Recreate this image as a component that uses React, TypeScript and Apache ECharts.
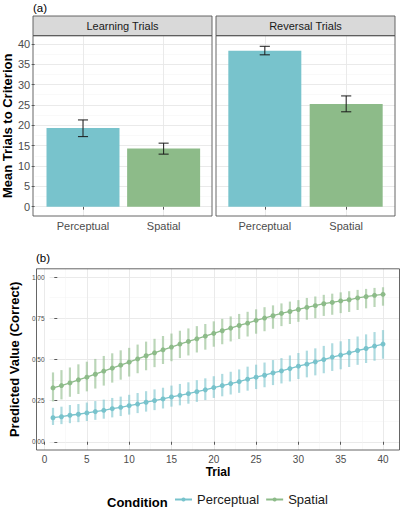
import React, { useEffect, useRef } from 'react';
import * as echarts from 'echarts';

// ---------- Panel (a) data ----------
const facets = ['Learning Trials', 'Reversal Trials'];
const conditions = ['Perceptual', 'Spatial'];
const learningMeans = [19.3, 14.3];
const learningLow = [17.2, 12.9];
const learningHigh = [21.3, 15.6];
const reversalMeans = [38.3, 25.2];
const reversalLow = [37.3, 23.3];
const reversalHigh = [39.4, 27.2];
const yTicksA = [0, 5, 10, 15, 20, 25, 30, 35, 40];

// ---------- Panel (b) data ----------
const trials = [1, 2, 3, 4, 5, 6, 7, 8, 9, 10, 11, 12, 13, 14, 15, 16, 17, 18, 19, 20,
  21, 22, 23, 24, 25, 26, 27, 28, 29, 30, 31, 32, 33, 34, 35, 36, 37, 38, 39, 40];
const perceptualFit = [0.146, 0.152, 0.161, 0.167, 0.175, 0.183, 0.191, 0.201, 0.209, 0.219,
  0.229, 0.240, 0.250, 0.260, 0.272, 0.282, 0.292, 0.304, 0.315, 0.329,
  0.341, 0.353, 0.365, 0.380, 0.392, 0.404, 0.418, 0.430, 0.444, 0.459,
  0.471, 0.485, 0.499, 0.514, 0.526, 0.540, 0.554, 0.566, 0.581, 0.593];
const perceptualLow = [0.102, 0.107, 0.113, 0.119, 0.126, 0.133, 0.140, 0.148, 0.156, 0.165,
  0.174, 0.183, 0.192, 0.202, 0.213, 0.221, 0.231, 0.242, 0.253, 0.266,
  0.276, 0.287, 0.297, 0.310, 0.320, 0.331, 0.344, 0.354, 0.366, 0.381,
  0.391, 0.403, 0.416, 0.430, 0.440, 0.454, 0.467, 0.478, 0.492, 0.504];
const perceptualHigh = [0.206, 0.213, 0.223, 0.229, 0.238, 0.247, 0.256, 0.266, 0.274, 0.285,
  0.296, 0.307, 0.318, 0.328, 0.341, 0.351, 0.361, 0.374, 0.385, 0.398,
  0.412, 0.425, 0.439, 0.456, 0.468, 0.481, 0.496, 0.508, 0.524, 0.539,
  0.553, 0.567, 0.582, 0.598, 0.610, 0.624, 0.639, 0.652, 0.666, 0.678];
const spatialFit = [0.327, 0.341, 0.357, 0.376, 0.392, 0.410, 0.429, 0.447, 0.465, 0.483,
  0.503, 0.522, 0.540, 0.558, 0.575, 0.593, 0.609, 0.625, 0.641, 0.658,
  0.674, 0.690, 0.706, 0.720, 0.737, 0.751, 0.765, 0.779, 0.791, 0.803,
  0.816, 0.826, 0.838, 0.846, 0.855, 0.862, 0.873, 0.881, 0.889, 0.895];
const spatialLow = [0.245, 0.257, 0.273, 0.290, 0.306, 0.323, 0.341, 0.359, 0.377, 0.396,
  0.416, 0.434, 0.453, 0.472, 0.489, 0.508, 0.524, 0.542, 0.559, 0.577,
  0.592, 0.609, 0.624, 0.639, 0.656, 0.671, 0.686, 0.702, 0.715, 0.728,
  0.741, 0.750, 0.764, 0.771, 0.781, 0.788, 0.800, 0.810, 0.818, 0.826];
const spatialHigh = [0.421, 0.435, 0.451, 0.470, 0.486, 0.503, 0.521, 0.537, 0.555, 0.570,
  0.590, 0.608, 0.625, 0.642, 0.657, 0.674, 0.688, 0.702, 0.715, 0.731,
  0.746, 0.761, 0.776, 0.789, 0.804, 0.817, 0.828, 0.840, 0.851, 0.860,
  0.873, 0.882, 0.892, 0.899, 0.907, 0.914, 0.922, 0.928, 0.934, 0.938];
const xTicksB = [0, 5, 10, 15, 20, 25, 30, 35, 40];

const PERC = '#78C3CC';
const SPAT = '#8DBB89';
const FONT = '"Liberation Sans", Arial, Helvetica, sans-serif';
const GRID_MAJOR = '#E8E8E8';
const GRID_MINOR = '#F3F3F3';
const BORDER = '#555555';

// layout (pixels)
const PA = { top: 35.7, height: 180.3, width: 179 };
const PA_LEFT = [33, 216];
const PB = { left: 36.5, width: 363, top: 268.8, height: 181.2 };
const PB_INNER = { top: 277.04, height: 164.72 };

export default function App() {
  const ref = useRef<HTMLDivElement>(null);

  useEffect(() => {
    if (!ref.current) return;
    const chart = echarts.init(ref.current, undefined, { renderer: 'svg' });

    const facetMeans = [learningMeans, reversalMeans];
    const facetLow = [learningLow, reversalLow];
    const facetHigh = [learningHigh, reversalHigh];
    const colors = [PERC, SPAT];

    const xAxes: any[] = [];
    const yAxes: any[] = [];
    const series: any[] = [];

    facets.forEach((f, i) => {
      xAxes.push({
        gridIndex: i, type: 'value', min: 0.4, max: 2.6, splitNumber: 2,
        axisLine: { show: false },
        axisTick: { show: true, length: 3, lineStyle: { color: '#333', width: 0.8 }, customValues: [1, 2] },
        axisLabel: {
          show: true, color: '#4D4D4D', fontSize: 11, margin: 4, fontFamily: FONT,
          customValues: [1, 2],
          formatter: (v: number) => (Math.abs(v - Math.round(v)) < 1e-6 && conditions[Math.round(v) - 1]) || '',
        },
        splitLine: { show: true, lineStyle: { color: GRID_MAJOR, width: 0.9 } },
      });
      yAxes.push({
        gridIndex: i, type: 'value', min: -2.3, max: 42.0, splitNumber: 9,
        axisLine: { show: false },
        axisTick: { show: i === 0, length: 3, lineStyle: { color: '#333', width: 0.8 }, customValues: yTicksA },
        axisLabel: {
          show: i === 0, color: '#4D4D4D', fontSize: 11, margin: 4.5, fontFamily: FONT,
          customValues: yTicksA,
          formatter: (v: number) => (yTicksA.indexOf(v) >= 0 ? String(v) : ''),
        },
        splitLine: { show: true, lineStyle: { color: GRID_MAJOR, width: 0.9 } },
        minorTick: { show: false, splitNumber: 2 },
        minorSplitLine: { show: true, lineStyle: { color: GRID_MINOR, width: 0.5 } },
        name: i === 0 ? 'Mean Trials to Criterion' : '',
        nameLocation: 'middle', nameRotate: 90, nameGap: 15.5,
        nameTextStyle: { fontSize: 13, fontWeight: 'bold', color: '#000', fontFamily: FONT },
      });
      series.push({
        type: 'bar', xAxisIndex: i, yAxisIndex: i, barWidth: 73, z: 2,
        data: conditions.map((c, k) => ({ value: [k + 1, facetMeans[i][k]], itemStyle: { color: colors[k] } })),
      });
      series.push({
        type: 'custom', xAxisIndex: i, yAxisIndex: i, z: 5,
        encode: { x: 0, y: [1, 2] },
        data: conditions.map((c, k) => [k + 1, facetLow[i][k], facetHigh[i][k]]),
        renderItem: (params: any, api: any) => {
          const x = api.value(0);
          const lo = api.coord([x, api.value(1)]);
          const hi = api.coord([x, api.value(2)]);
          const hw = api.size([0.0625, 0])[0];
          const st = { stroke: '#1A1A1A', lineWidth: 1 };
          return {
            type: 'group',
            children: [
              { type: 'line', shape: { x1: lo[0], y1: lo[1], x2: hi[0], y2: hi[1] }, style: st },
              { type: 'line', shape: { x1: lo[0] - hw, y1: lo[1], x2: lo[0] + hw, y2: lo[1] }, style: st },
              { type: 'line', shape: { x1: hi[0] - hw, y1: hi[1], x2: hi[0] + hw, y2: hi[1] }, style: st },
            ],
          };
        },
      });
    });

    // Panel (b): grid 2 (y 0..1: horizontal gridlines and labels), grid 3 (full panel: x axis + data)
    xAxes.push({
      gridIndex: 2, type: 'value', min: -0.95, max: 41.95,
      axisLine: { show: false }, axisTick: { show: false }, axisLabel: { show: false },
      splitLine: { show: false },
    });
    yAxes.push({
      gridIndex: 2, type: 'value', min: 0, max: 1, interval: 0.25,
      axisLine: { show: false },
      axisTick: { show: true, length: 3, lineStyle: { color: '#333', width: 0.8 } },
      axisLabel: { color: '#4D4D4D', fontSize: 6.5, margin: 5, fontFamily: FONT, formatter: (v: number) => v.toFixed(2) },
      splitLine: { show: true, lineStyle: { color: GRID_MAJOR, width: 0.9 } },
      minorTick: { show: false, splitNumber: 2 },
      minorSplitLine: { show: true, lineStyle: { color: GRID_MINOR, width: 0.5 } },
      name: 'Predicted Value (Correct)', nameLocation: 'middle', nameRotate: 90, nameGap: 19.5,
      nameTextStyle: { fontSize: 13, fontWeight: 'bold', color: '#000', fontFamily: FONT },
    });
    xAxes.push({
      gridIndex: 3, type: 'value', min: -0.95, max: 41.95, splitNumber: 9,
      axisLine: { show: false },
      axisTick: { show: true, length: 3, lineStyle: { color: '#333', width: 0.8 }, customValues: xTicksB },
      axisLabel: {
        color: '#4D4D4D', fontSize: 10, margin: 4.5, fontFamily: FONT,
        customValues: xTicksB,
        formatter: (v: number) => (xTicksB.indexOf(v) >= 0 ? String(v) : ''),
      },
      splitLine: { show: true, lineStyle: { color: GRID_MAJOR, width: 0.9 } },
      minorTick: { show: false, splitNumber: 2 },
      minorSplitLine: { show: true, lineStyle: { color: GRID_MINOR, width: 0.5 } },
      name: 'Trial', nameLocation: 'middle', nameGap: 16,
      nameTextStyle: { fontSize: 12, fontWeight: 'bold', color: '#000', fontFamily: FONT },
    });
    yAxes.push({
      gridIndex: 3, type: 'value', min: -0.05, max: 1.05,
      axisLine: { show: false }, axisTick: { show: false }, axisLabel: { show: false },
      splitLine: { show: false },
    });

    const lineSets = [
      { name: 'Perceptual', fit: perceptualFit, low: perceptualLow, high: perceptualHigh, color: PERC },
      { name: 'Spatial', fit: spatialFit, low: spatialLow, high: spatialHigh, color: SPAT },
    ];
    lineSets.forEach((s) => {
      series.push({
        type: 'custom', name: s.name + ' CI', xAxisIndex: 3, yAxisIndex: 3, z: 2,
        encode: { x: 0, y: [1, 2] },
        data: trials.map((t, k) => [t, s.low[k], s.high[k]]),
        renderItem: (params: any, api: any) => {
          const lo = api.coord([api.value(0), api.value(1)]);
          const hi = api.coord([api.value(0), api.value(2)]);
          return {
            type: 'line',
            shape: { x1: lo[0], y1: lo[1], x2: hi[0], y2: hi[1] },
            style: { stroke: s.color, lineWidth: 2.2, opacity: 0.6 },
          };
        },
      });
    });
    lineSets.forEach((s) => {
      series.push({
        type: 'line', name: s.name, xAxisIndex: 3, yAxisIndex: 3, z: 4,
        data: trials.map((t, k) => [t, s.fit[k]]),
        symbol: 'circle', symbolSize: 5, showSymbol: true,
        lineStyle: { color: s.color, width: 1.3 },
        itemStyle: { color: s.color },
      });
    });

    const graphics: any[] = [];
    // strips and panel borders for (a)
    facets.forEach((f, i) => {
      graphics.push({
        type: 'rect', z: 10,
        shape: { x: PA_LEFT[i], y: 16, width: PA.width, height: PA.top - 16 },
        style: { fill: '#D9D9D9', stroke: BORDER, lineWidth: 0.9 },
      });
      graphics.push({
        type: 'text', z: 11, x: PA_LEFT[i] + PA.width / 2, y: (16 + PA.top) / 2,
        style: { text: f, fontSize: 11, fontFamily: FONT, fill: '#1A1A1A', align: 'center', verticalAlign: 'middle' },
      });
      graphics.push({
        type: 'rect', z: 10,
        shape: { x: PA_LEFT[i], y: PA.top, width: PA.width, height: PA.height },
        style: { fill: 'none', stroke: BORDER, lineWidth: 0.9 },
      });
    });
    graphics.push({
      type: 'rect', z: 10,
      shape: { x: PB.left, y: PB.top, width: PB.width, height: PB.height },
      style: { fill: 'none', stroke: BORDER, lineWidth: 0.9 },
    });
    graphics.push({
      type: 'text', z: 11, x: 33, y: 8,
      style: { text: '(a)', fontSize: 11.5, fontFamily: FONT, fill: '#000', verticalAlign: 'middle' },
    });
    graphics.push({
      type: 'text', z: 11, x: 36, y: 258,
      style: { text: '(b)', fontSize: 11.5, fontFamily: FONT, fill: '#000', verticalAlign: 'middle' },
    });
    graphics.push({
      type: 'text', z: 11, x: 107, y: 502,
      style: { text: 'Condition', fontSize: 13, fontWeight: 'bold', fontFamily: FONT, fill: '#000', verticalAlign: 'middle' },
    });

    chart.setOption({
      animation: false,
      backgroundColor: '#FFFFFF',
      textStyle: { fontFamily: FONT },
      grid: [
        { left: PA_LEFT[0], width: PA.width, top: PA.top, height: PA.height, containLabel: false },
        { left: PA_LEFT[1], width: PA.width, top: PA.top, height: PA.height, containLabel: false },
        { left: PB.left, width: PB.width, top: PB_INNER.top, height: PB_INNER.height, containLabel: false },
        { left: PB.left, width: PB.width, top: PB.top, height: PB.height, containLabel: false },
      ],
      xAxis: xAxes,
      yAxis: yAxes,
      legend: {
        data: ['Perceptual', 'Spatial'],
        left: 172, top: 491, itemWidth: 17, itemHeight: 5, itemGap: 6, padding: [2, 2, 2, 2],
        textStyle: { fontSize: 13, color: '#1A1A1A', fontFamily: FONT },
      },
      graphic: graphics,
      series,
    });

    return () => chart.dispose();
  }, []);

  return <div ref={ref} style={{ position: 'absolute', left: 0, top: 0, width: 400, height: 511 }} />;
}
